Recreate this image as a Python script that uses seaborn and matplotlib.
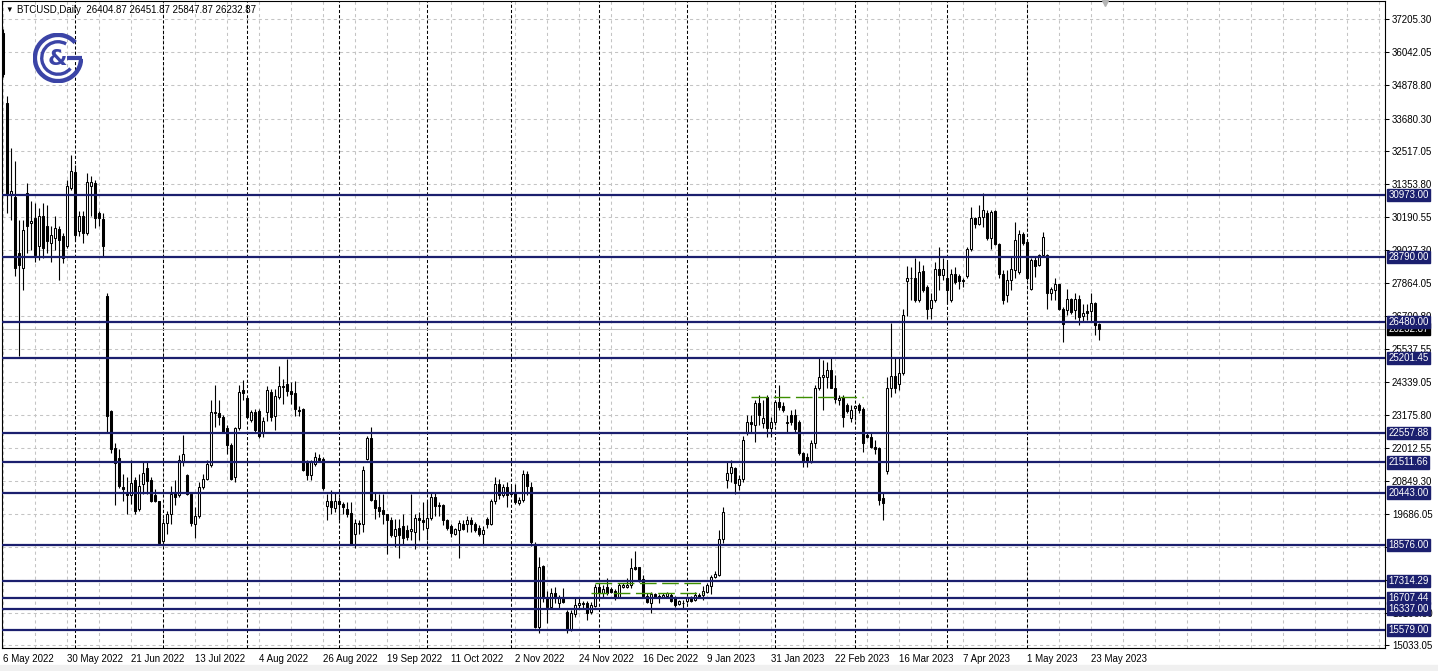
import numpy as np
import pandas as pd
import matplotlib
matplotlib.use("Agg")
import matplotlib.pyplot as plt
import matplotlib.transforms as mtransforms
from matplotlib.patches import Arc, Rectangle
import seaborn as sns

# --- data (weekday bars from 6 May 2022) ---
first_day = "2022-05-06"

opens = [
    36700, 34220, 31000, 30920, 28920, 28390, 31040, 29980, 30160, 29160,
    30220, 29890, 29270, 29450, 29770, 29510, 29160, 31220, 31770, 29690,
    30240, 29630, 31280, 31390, 30330, 30130, 27390, 23320, 22020, 21670,
    20630, 20420, 20340, 20870, 19860, 20750, 21320, 20870, 20340, 20130,
    18730, 19350, 19680, 20420, 20340, 21520, 21050, 20400, 19330, 19620,
    20630, 20930, 21410, 23280, 23270, 23110, 22710, 22120, 20990, 22710,
    24080, 23780, 23010, 23300, 23340, 22540, 23280, 23990, 23170, 23810,
    24220, 24280, 24050, 23950, 23380, 23400, 21520, 21080, 21460, 21670,
    21640, 19950, 20130, 19910, 20140, 20050, 19870, 19730, 18990, 19360,
    19340, 21640, 22380, 20190, 19930, 19810, 19670, 19480, 18890, 19200,
    19250, 19130, 19090, 19050, 19550, 19480, 19200, 19550, 20300, 19950,
    20020, 19460, 19250, 18990, 19130, 19340, 19320, 19480, 19340, 19200,
    18960, 19490, 19320, 20160, 20750, 20370, 20650, 20430, 20420, 20070,
    20190, 21100, 20650, 18630, 15700, 17850, 16760, 16380, 16880, 16520,
    16700, 16230, 15600, 16150, 16470, 16500, 16550, 16230, 16430, 17090,
    16900, 17090, 17020, 16970, 16760, 17090, 17090, 17170, 17820, 17800,
    17370, 16780, 16550, 16850, 16780, 16740, 16780, 16820, 16700, 16500,
    16520, 16590, 16730, 16640, 16820, 16820, 16940, 17140, 17450, 17530,
    18790, 20890, 21120, 21300, 20710, 20910, 22560, 22950, 22830, 23600,
    22890, 23830, 22710, 22950, 23650, 23500, 22890, 23180, 23180, 22950,
    21860, 21710, 21540, 22210, 24160, 24540, 24540, 24770, 24160, 23730,
    23830, 23540, 23070, 23420, 23540, 23390, 22480, 22420, 22040, 22010,
    20240, 21190, 24130, 24560, 24270, 24680, 27930, 28050, 28050, 27250,
    28290, 27720, 26990, 27270, 28370, 28140, 28020, 27270, 28190, 28100,
    27930, 28100, 29050, 30150, 29940, 30200, 30350, 29440, 30420, 29230,
    28170, 27430, 27980, 28310, 28250, 29610, 29320, 27660, 28670, 28490,
    28840, 28840, 27490, 27600, 27820, 26950, 26890, 27310, 26920, 27310,
    26680, 26870, 26870, 27150, 26404.87,
]
highs = [
    36850, 34460, 32630, 32160, 30100, 30100, 31390, 30750, 30690, 30510,
    30690, 30630, 29860, 30220, 29860, 29630, 31510, 32400, 32040, 30390,
    30390, 31750, 31630, 31510, 30390, 30330, 27500, 23380, 22200, 21970,
    21100, 20990, 21580, 20990, 21110, 21520, 21520, 20990, 20570, 20160,
    19560, 19800, 20690, 20900, 21760, 22480, 21110, 20450, 19920, 20810,
    21110, 21580, 23720, 24260, 23720, 23190, 22830, 22180, 22770, 24260,
    24440, 23840, 23370, 23400, 23400, 23110, 24220, 24110, 24110, 24930,
    24460, 25170, 24340, 24400, 23520, 23450, 21580, 21580, 21870, 21810,
    21690, 20400, 20540, 20460, 20280, 20110, 20110, 20110, 19520, 19460,
    21400, 22460, 22750, 20460, 20400, 20380, 19690, 19580, 19520, 19520,
    19690, 19280, 20400, 19690, 19750, 20100, 20160, 20420, 20420, 20100,
    20040, 19520, 19340, 19200, 19460, 19460, 19630, 19570, 19400, 19280,
    19250, 19570, 20220, 20980, 20920, 20750, 20810, 20690, 20750, 20280,
    21240, 21200, 20810, 18710, 18150, 17880, 16970, 17060, 17110, 16820,
    17060, 16290, 16290, 16760, 16740, 16600, 16610, 16580, 17210, 17230,
    17170, 17410, 17110, 17020, 17230, 17230, 17410, 18120, 18390, 17820,
    17530, 16880, 16940, 16900, 16850, 16900, 16940, 16880, 16790, 16640,
    16640, 16790, 16790, 16940, 16880, 17120, 17230, 17530, 17650, 19120,
    19940, 21530, 21590, 21360, 21060, 22430, 23180, 23180, 23710, 23890,
    23710, 23890, 23120, 23710, 24240, 23650, 23180, 23360, 23400, 23010,
    21890, 21830, 22300, 24240, 25240, 25130, 25070, 25240, 24600, 23890,
    23890, 23620, 23540, 23540, 23600, 23480, 22540, 22540, 22300, 22070,
    20480, 24520, 26450, 25190, 25190, 26950, 28450, 28410, 28730, 28640,
    28490, 27780, 27490, 28610, 29140, 28730, 28610, 28370, 28430, 28190,
    28020, 29120, 30560, 30200, 30620, 31030, 30440, 30440, 30440, 29260,
    28310, 28310, 28790, 30030, 29730, 29670, 29380, 28730, 28790, 28900,
    29670, 28900, 27720, 28020, 27840, 27010, 27660, 27340, 27490, 27430,
    27130, 27130, 27490, 27190, 26451.87,
]
lows = [
    35150, 30330, 30100, 28090, 25270, 27620, 28920, 29040, 28620, 28680,
    28740, 28920, 28620, 29040, 27980, 28570, 29100, 31160, 29330, 29510,
    29270, 29560, 30220, 29800, 29860, 28800, 22550, 21850, 20020, 20610,
    20160, 19680, 20040, 19680, 19800, 20400, 20400, 20100, 20100, 18590,
    18610, 18970, 19330, 20000, 20280, 21370, 20340, 19270, 18850, 19560,
    20570, 20870, 21350, 22770, 22830, 22540, 21820, 20870, 20810, 22650,
    23720, 23070, 22950, 22560, 22380, 22420, 22990, 22990, 22640, 23750,
    23580, 23870, 23580, 23170, 23170, 21220, 20870, 20870, 21400, 21580,
    20520, 19460, 19690, 19750, 19460, 19690, 19580, 18610, 18490, 18990,
    19050, 21580, 20140, 19520, 19580, 19340, 18260, 18870, 18520, 18110,
    18640, 18750, 18750, 18460, 18750, 19110, 18750, 19460, 19630, 19630,
    19280, 19110, 18870, 18930, 18110, 19110, 19050, 19050, 19050, 18890,
    18640, 19200, 19280, 20040, 20220, 20280, 19930, 20340, 20040, 19990,
    20100, 20340, 18550, 15640, 15460, 16580, 15820, 16350, 16520, 16350,
    16520, 15460, 15560, 16050, 16350, 16350, 15930, 16150, 16410, 16760,
    16760, 16820, 16880, 16640, 16700, 17060, 17060, 17060, 17700, 17290,
    16700, 16520, 16190, 16700, 16550, 16700, 16700, 16580, 16380, 16470,
    16310, 16530, 16580, 16590, 16700, 16640, 16900, 16860, 17410, 17490,
    18670, 20590, 20830, 20390, 20550, 20830, 22480, 22540, 22240, 22830,
    22710, 22420, 22420, 22830, 23360, 23300, 22560, 22830, 22600, 21770,
    21360, 21360, 21480, 22010, 24070, 23360, 24160, 24130, 23600, 23540,
    22770, 23250, 22950, 23010, 23250, 21890, 22360, 22010, 21810, 20010,
    19480, 21100, 23830, 23950, 24070, 24600, 26680, 27270, 27190, 27190,
    27540, 26600, 26600, 27190, 27600, 27960, 27130, 27190, 27840, 27660,
    27720, 28050, 29000, 29790, 29910, 29850, 29380, 29080, 29200, 28020,
    27130, 27190, 27600, 28020, 28190, 29200, 27960, 27600, 28080, 28450,
    28790, 26950, 27250, 27250, 26890, 25770, 26720, 26750, 26600, 26360,
    26480, 26540, 26480, 26010, 25847.87,
]
closes = [
    35250, 30980, 31100, 28390, 28510, 29740, 29860, 30040, 28860, 30220,
    29100, 29330, 29570, 29800, 29390, 28740, 31280, 31810, 29570, 30220,
    29630, 31450, 31450, 30160, 30160, 29160, 23140, 21970, 21490, 20670,
    20560, 20370, 20780, 19800, 20660, 21130, 20850, 20160, 20160, 18670,
    19350, 19680, 20400, 20300, 21580, 21790, 20400, 19380, 19620, 20630,
    20930, 21440, 23310, 23250, 23110, 22590, 22120, 20930, 22710, 24000,
    23960, 23130, 23310, 22640, 22460, 22970, 24070, 23110, 23870, 24220,
    24190, 24050, 23930, 23400, 23340, 21250, 21050, 21520, 21700, 21600,
    20610, 20160, 19930, 20160, 20050, 19930, 19670, 18630, 19360, 19320,
    21250, 22380, 20190, 19910, 19790, 19670, 19460, 18930, 19160, 18930,
    18850, 18870, 19140, 19550, 19480, 19400, 19550, 20300, 19950, 20020,
    19480, 19200, 19010, 19160, 19360, 19160, 19480, 19340, 19130, 18990,
    19130, 19320, 20160, 20750, 20370, 20630, 20340, 20400, 20100, 20190,
    21100, 20690, 18700, 15700, 17820, 16760, 16380, 16880, 16700, 16700,
    16580, 15580, 16170, 16470, 16550, 16550, 16190, 16470, 17090, 16900,
    17020, 16900, 16940, 16760, 17170, 17170, 17170, 17760, 17730, 17330,
    16780, 16580, 16850, 16740, 16760, 16820, 16880, 16620, 16470, 16590,
    16550, 16730, 16620, 16820, 16760, 16970, 17170, 17470, 17560, 18790,
    19770, 21120, 21360, 20770, 20910, 22320, 22950, 22870, 23600, 23180,
    23070, 22710, 22950, 23650, 23480, 23360, 22950, 22950, 22700, 21830,
    21570, 21540, 22210, 24160, 24540, 24600, 24770, 24160, 23770, 23800,
    23100, 23340, 23360, 23500, 23360, 22210, 22400, 22070, 21970, 20180,
    20070, 24130, 24560, 24160, 24680, 26720, 28020, 28020, 27250, 28250,
    27600, 26950, 27250, 28340, 28140, 28340, 27600, 28190, 27900, 27930,
    27970, 29050, 30150, 29940, 30200, 30440, 29440, 30380, 29230, 28170,
    27250, 27960, 28340, 29380, 29610, 29260, 28020, 28670, 28450, 28840,
    29490, 27490, 27630, 27820, 26950, 26420, 27310, 26830, 27310, 26660,
    26800, 26800, 27150, 26360, 26232.87,
]

# horizontal support / resistance levels drawn on the chart
levels = [30973.00, 28790.00, 26480.00, 25201.45, 22557.88, 21511.66,
          20443.00, 18576.00, 17314.29, 16707.44, 16337.00, 15579.00]
bid_price = 26232.87

# short green dashed lines (price, from, to)
green_prices = [17232, 16901, 23840]
green_from = ["2022-11-30", "2022-11-29", "2023-01-24"]
green_to = ["2023-01-06", "2023-01-06", "2023-03-03"]

price_ticks = [37205.30, 36042.05, 34878.80, 33680.30, 32517.05, 31353.80,
               30190.55, 29027.30, 27864.05, 26700.80, 25537.55, 24339.05,
               23175.80, 22012.55, 20849.30, 19686.05, 18522.80, 17359.55,
               16196.30, 15033.05]
# these scale labels sit completely under a level box in the terminal
covered_ticks = [18522.80, 17359.55]

header = "BTCUSD,Daily  26404.87 26451.87 25847.87 26232.87"

# --- build frame ---
df = pd.DataFrame({"open": opens, "high": highs, "low": lows, "close": closes})
df["date"] = pd.bdate_range(first_day, periods=len(df))
df["idx"] = np.arange(len(df))
df["up"] = df["close"] >= df["open"]

W, H = 1438, 671
navy = "#1b1f6e"
logo_blue = "#3b44a6"

sns.set_style("white")
plt.rcParams["font.family"] = ["Liberation Sans", "DejaVu Sans"]

fig = plt.figure(figsize=(W / 100, H / 100), dpi=100)
ax = fig.add_axes([2 / W, (H - 648) / H, 1383 / W, 647 / H])
ax.set_xlim(-0.25, 345.5)
ax.set_ylim(14942, 37839)

# grid: dashed gray every 8 bars and at each price tick
for i in range(0, 346, 8):
    ax.axvline(i, color="#c4c4c4", lw=0.75, ls=(0, (3, 3)), zorder=0)
for p in price_ticks:
    ax.axhline(p, color="#c4c4c4", lw=0.75, ls=(0, (3, 3)), zorder=0)

# month separators
new_month = df["date"].dt.month.diff().fillna(0) != 0
for i in df.loc[new_month, "idx"]:
    ax.axvline(i, color="black", lw=0.75, ls=(0, (3, 2)), zorder=1)

# bid line
ax.axhline(bid_price, color="#bdbdbd", lw=0.75, zorder=1)

# candles
ax.vlines(df["idx"], df["low"], df["high"], color="black", lw=0.8, zorder=2)
body_lo = df[["open", "close"]].min(axis=1)
body_h = (df["close"] - df["open"]).abs()
ax.bar(df["idx"], body_h, bottom=body_lo, width=0.62,
       color=np.where(df["up"], "white", "black"),
       edgecolor="black", linewidth=0.75, zorder=3)

# levels
for lv in levels:
    ax.axhline(lv, color=navy, lw=1.6, zorder=4)

# green dashed segments
date_pos = dict(zip(df["date"], df["idx"]))
for gp, d0, d1 in zip(green_prices, green_from, green_to):
    ax.plot([date_pos[pd.Timestamp(d0)], date_pos[pd.Timestamp(d1)]], [gp, gp],
            color="#3d8f00", lw=1.0, ls=(0, (12, 4)), zorder=4)

# axes styling
for s in ax.spines.values():
    s.set_color("black")
    s.set_linewidth(0.8)
ax.yaxis.tick_right()
ax.set_yticks(price_ticks)
ax.set_yticklabels(["" if p in covered_ticks else f"{p:.2f}" for p in price_ticks])
lab_idx = list(range(0, len(df), 16))
ax.set_xticks(lab_idx)
ax.set_xticklabels([f"{d.day} {d:%b %Y}" for d in df["date"].iloc[lab_idx]])
for lbl in ax.get_xticklabels():
    lbl.set_ha("left")
ax.tick_params(axis="y", direction="out", length=3, width=0.75, pad=2,
               labelsize=7, colors="black")
ax.tick_params(axis="x", direction="out", length=3, width=0.75, pad=1,
               labelsize=7, colors="black")
ax.set_xlabel("")
ax.set_ylabel("")

# price boxes on the right scale
trans = mtransforms.blended_transform_factory(ax.transAxes, ax.transData)
for lv in levels:
    ax.text(1.0025, lv, f"{lv:.2f}", transform=trans, ha="left", va="center",
            fontsize=7, color="white", zorder=10, clip_on=False,
            bbox=dict(boxstyle="square,pad=0.12", fc=navy, ec=navy))
ax.text(1.0025, bid_price, f"{bid_price:.2f}", transform=trans, ha="left",
        va="center", fontsize=7, color="white", zorder=9, clip_on=False,
        bbox=dict(boxstyle="square,pad=0.12", fc="black", ec="black"))

# shift marker at the top
ax.plot([275.5], [37760], marker="v", ms=5, color="#b4b4b4", clip_on=False, zorder=6)

# header
fig.text(5 / W, 1 - 10 / H, "\u25bc", fontsize=5.5, va="center", color="black")
fig.text(17 / W, 1 - 10 / H, header, fontsize=7, va="center", color="black")

# logo
lax = fig.add_axes([33 / W, 1 - 83 / H, 50 / W, 50 / H])
lax.set_xlim(-1, 1)
lax.set_ylim(-1, 1)
lax.axis("off")
lax.add_patch(Arc((0, 0), 1.85, 1.85, theta1=42, theta2=358, lw=3.2, color=logo_blue))
lax.add_patch(Arc((0, 0), 1.3, 1.3, theta1=60, theta2=320, lw=2.4, color=logo_blue))
lax.plot([0.35, 0.95], [0, 0], lw=3.0, color=logo_blue, solid_capstyle="butt")
lax.text(-0.02, -0.05, "&", ha="center", va="center", fontsize=16,
         fontweight="bold", color=logo_blue, family="DejaVu Sans")

# window strip at the bottom
fig.patches.append(Rectangle((0, 0), 1, 6 / H, transform=fig.transFigure,
                             color="#f0f0f0", zorder=0))

fig.savefig("out.png", dpi=100, facecolor="white")
